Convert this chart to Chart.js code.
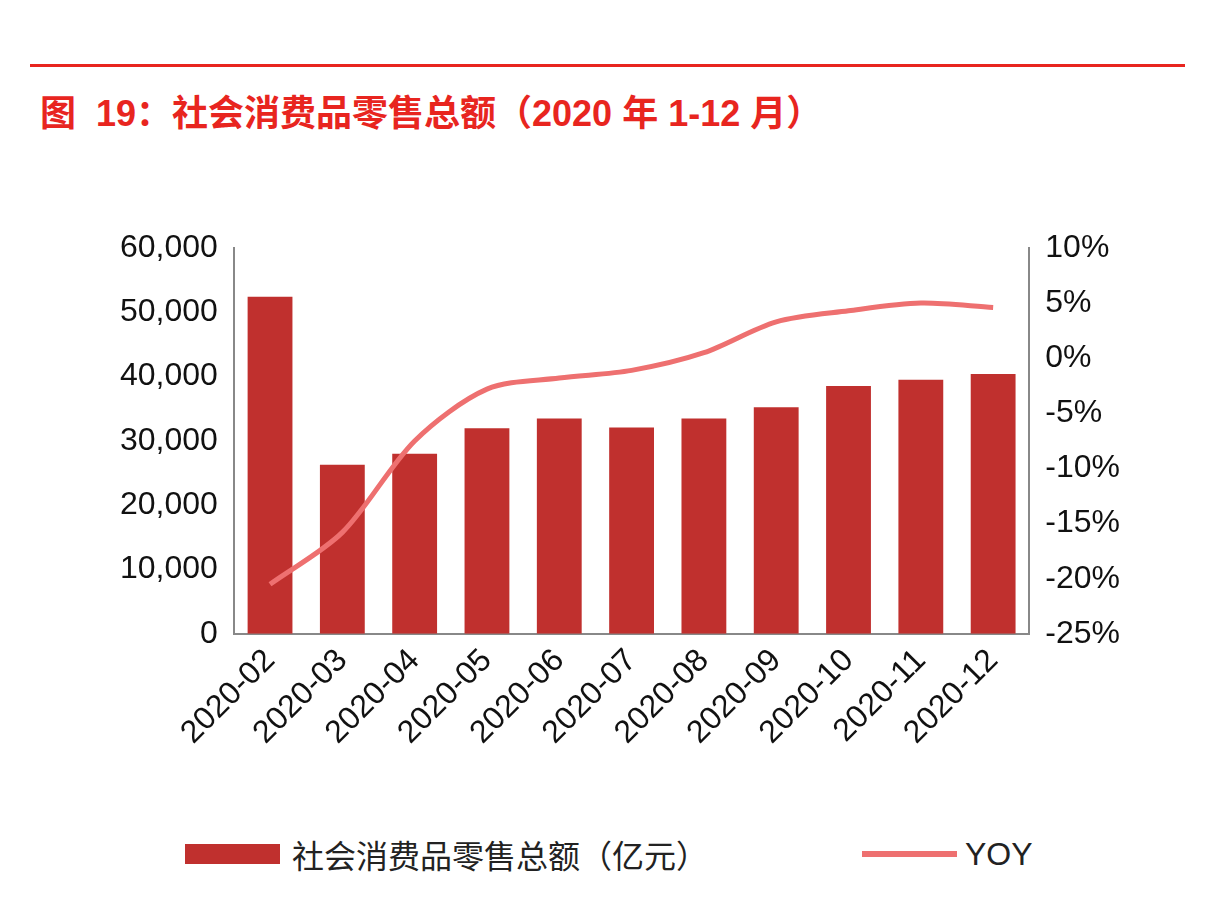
<!DOCTYPE html>
<html><head><meta charset="utf-8">
<script src="https://cdn.jsdelivr.net/npm/chart.js@4"></script>
<style>
body{margin:0;width:1216px;height:924px;background:#fff;position:relative;overflow:hidden;font-family:"Liberation Sans","Noto Sans CJK SC",sans-serif}
#rule{position:absolute;left:30px;top:64px;width:1155px;height:3px;background:#e8251f}
#title{position:absolute;left:40px;top:84px;font-size:36px;font-weight:bold;color:#e8251f;font-family:"Liberation Sans","Noto Sans CJK SC",sans-serif}
#wrap{position:absolute;left:0;top:150px;width:1216px;height:610px}
#legend{position:absolute;top:832px;left:0;width:1216px;font-size:32px;color:#222}
.it{position:absolute;display:flex;align-items:center}
</style></head><body>
<div id="rule"></div>
<div id="title">图&nbsp; 19：社会消费品零售总额（2020 年 1-12 月）</div>
<div id="wrap"><canvas id="c"></canvas></div>
<div id="legend">
<div class="it" style="left:185px;top:0;height:44px"><span style="display:inline-block;width:95px;height:20px;background:#c0302e;margin-right:12px"></span>社会消费品零售总额（亿元）</div>
<div class="it" style="left:862px;top:0;height:44px"><span style="display:inline-block;width:95px;height:6px;background:#ee7070;margin-right:8px"></span>YOY</div>
</div>
<script>
const categories=["2020-02","2020-03","2020-04","2020-05","2020-06","2020-07","2020-08","2020-09","2020-10","2020-11","2020-12"];
const sales=[52400,26300,28000,31950,33500,32100,33500,35250,38550,39500,40400];
const yoy=[-20.5,-15.8,-7.5,-2.8,-1.8,-1.1,0.5,3.3,4.3,5.0,4.6];
const font={family:"Liberation Sans",size:32};
new Chart(document.getElementById('c'),{
data:{labels:categories,datasets:[
{type:'line',data:yoy,yAxisID:'y1',borderColor:'#ee7070',borderWidth:5,pointRadius:0,tension:0.3,order:0},
{type:'bar',data:sales,yAxisID:'y',backgroundColor:'#c0302e',categoryPercentage:1,barPercentage:0.62,order:1}
]},
options:{responsive:true,maintainAspectRatio:false,animation:false,
layout:{padding:{left:112,right:88,top:98,bottom:0}},
plugins:{legend:{display:false},tooltip:{enabled:false}},
scales:{
x:{grid:{display:false,drawTicks:false},border:{color:'#888',width:2},ticks:{color:'#111',font,maxRotation:45,minRotation:45,padding:8}},
y:{min:0,max:60000,grid:{display:false,drawTicks:true,tickLength:8,tickColor:'#888'},border:{color:'#888',width:2},
ticks:{stepSize:10000,color:'#111',font,padding:8,callback:v=>v.toLocaleString('en-US')}},
y1:{position:'right',min:-25,max:10,grid:{display:false,drawTicks:true,tickLength:8,tickColor:'#888'},border:{color:'#888',width:2},
ticks:{stepSize:5,color:'#111',font,padding:8,callback:v=>v+'%'}}
}}});
</script></body></html>
